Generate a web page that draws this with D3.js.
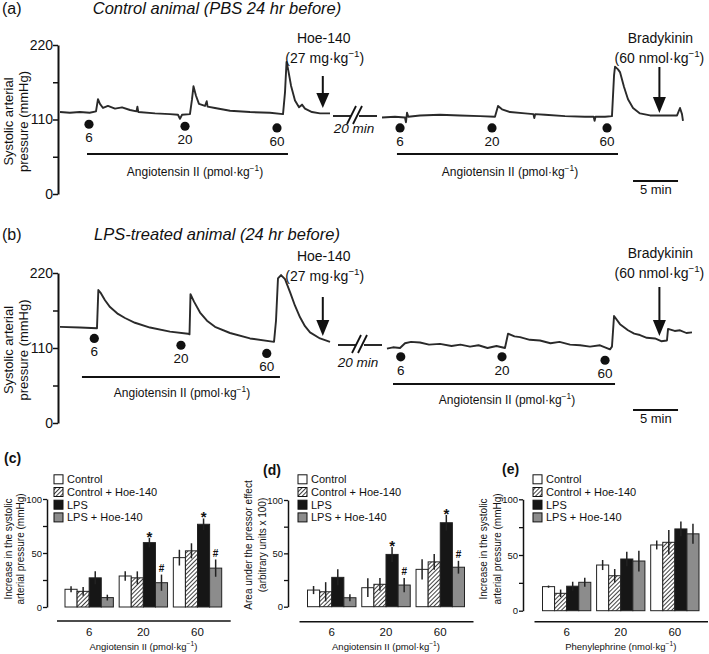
<!doctype html>
<html>
<head>
<meta charset="utf-8">
<style>
  body { margin: 0; background: #fff; }
  svg { font-family: "Liberation Sans", Arial, sans-serif; }
  text { fill: #111; }
</style>
<script src="https://d3js.org/d3.v7.min.js"></script>
</head>
<body>
<svg width="709" height="654"></svg>
<script>
// ---- pressure traces: [minutes on the display axis, mmHg]
var traceA1 = [[0,121],[1.1,120],[2.2,121],[3.3,120],[4.0,122],[4.22,140],[4.44,133],[4.78,127],[5.33,130],[6.11,126],
  [6.89,128],[7.78,124],[8.5,122],[8.6,129],[8.7,121],[10.56,119],[12.22,118],[13.11,117],[13.33,111],[13.56,117],
  [14.44,118],[14.67,140],[14.83,159],[15.11,145],[15.44,133],[16.11,130],[16.3,137],[16.4,129],[17.22,127],[18.89,123],
  [21.11,121],[23.33,120],[24.78,118],[25.0,150],[25.17,195],[25.33,185],[25.67,160],[26.11,138],[26.56,128],[26.89,132],
  [27.22,126],[28.0,121],[28.89,119],[30.0,119]];
var traceA2 = [[35.78,113],[37.22,114],[38.33,113],[38.44,106],[38.56,120],[38.7,114],[40.0,116],[42.22,117],[44.44,116],
  [46.67,115],[48.33,114],[48.67,130],[49.11,125],[50.0,121],[51.67,119],[52.6,118],[52.7,112],[52.8,118],[53.89,117],
  [56.11,115],[58.33,114],[59.3,114],[59.4,108],[59.5,114],[60.56,114],[61.33,115],[61.56,175],[61.67,188],[62.0,184],
  [62.22,180],[62.67,158],[63.11,140],[63.67,127],[64.44,119],[65.56,116],[67.22,116],[68.56,116],[68.89,127],[69.11,118],[69.22,108]];
var traceB1 = [[0,141],[2.22,140],[4.11,139],[4.26,195],[4.56,190],[5.0,180],[5.56,170],[6.44,160],[7.22,154],[8.33,147],
  [10.0,140],[12.22,134],[14.22,131],[14.39,130],[14.5,189],[14.89,178],[15.56,162],[16.33,150],[17.22,141],[18.89,132],
  [21.11,124],[23.78,119],[24.0,150],[24.22,212],[24.56,217],[25.0,211],[25.56,192],[26.11,172],[26.67,155],[27.22,142],
  [27.78,133],[28.89,124],[30.0,119]];
var traceB2 = [[36.33,109],[37.0,111],[37.78,110],[38.33,117],[39.0,119],[40.0,118],[41.0,115],[42.22,116],[43.5,113],
  [44.5,115],[45.56,112],[46.5,114],[47.5,110],[48.5,113],[49.44,110],[49.78,131],[50.5,127],[51.11,126],[52.2,122],
  [53.33,121],[54.5,117],[55.5,119],[56.67,115],[57.8,114],[58.89,112],[60.0,114],[61.11,108],[61.33,112],[61.56,157],
  [62.22,145],[63.11,136],[63.8,131],[64.44,129],[65.2,125],[66.11,124],[66.8,120],[67.44,121],[67.56,138],[68.3,135],
  [68.89,136],[69.6,132],[70.22,133]];

// injection times (minutes) and doses
var doseLabels = ["6", "20", "60"];
var injA1 = [3.22, 13.89, 24.11];
var injA2 = [37.78, 48.0, 60.78];
var injB1 = [3.81, 13.44, 22.97];
var injB2 = [37.86, 49.11, 60.56];
var hoeTime = 29.2, bradyTime = 66.6;

// ---- bar panels: rows = doses, columns = groups
var groups = ["Control", "Control + Hoe-140", "LPS", "LPS + Hoe-140"];
var doses = ["6", "20", "60"];
var cMeans = [[16.4, 14.5, 27, 8.7], [28.7, 27, 59.6, 22.5], [45.7, 52, 76.6, 36]];
var cSem   = [[2.8, 4, 6, 2.7], [4.3, 6, 4.4, 7.5], [7.3, 7, 5.4, 8]];
var dMeans = [[15.6, 14, 27.5, 8.4], [17.8, 21, 49, 20.3], [35, 42, 78.7, 37]];
var dSem   = [[3.8, 9, 7.5, 3.2], [8.8, 6, 7, 6.7], [9.4, 7.4, 7.3, 6]];
var eMeans = [[21.6, 15.6, 22, 25.5], [41, 31.4, 46.4, 44.6], [59, 61.4, 73.4, 69]];
var eSem   = [[1, 3.4, 4, 4], [4.5, 6, 6.6, 9.3], [4, 11, 6.6, 9]];
var sigMarks = [["", "", "", ""], ["", "", "*", "#"], ["", "", "*", "#"]];
var noMarks = [["", "", "", ""], ["", "", "", ""], ["", "", "", ""]];

var svg = d3.select("svg");
var ink = "#111";

var defs = svg.append("defs");
var pat = defs.append("pattern").attr("id", "hatch").attr("patternUnits", "userSpaceOnUse")
  .attr("width", 3).attr("height", 3).attr("patternTransform", "rotate(45)");
pat.append("rect").attr("width", 3).attr("height", 3).attr("fill", "#fff");
pat.append("line").attr("x1", 0).attr("y1", 0).attr("x2", 0).attr("y2", 3)
  .attr("stroke", ink).attr("stroke-width", 1.6);

// text with a superscript piece: before + sup + after
function supText(sel, before, sup, after, fs) {
  sel.append("tspan").text(before);
  sel.append("tspan").attr("dy", -fs * 0.4).attr("font-size", fs * 0.7).text(sup);
  sel.append("tspan").attr("dy", fs * 0.4).text(after);
}

function arrow(g, x, top, headTop, tip) {
  g.append("line").attr("x1", x).attr("x2", x).attr("y1", top).attr("y2", headTop)
    .attr("stroke", ink).attr("stroke-width", 2);
  g.append("path").attr("d", "M" + (x - 6.5) + "," + headTop + "L" + (x + 6.5) + "," + headTop + "L" + x + "," + tip + "Z")
    .attr("fill", ink);
}

var xT = d3.scaleLinear().domain([0, 70]).range([60, 690]);

function drawTrace(c) {
  var g = svg.append("g");
  var y = d3.scaleLinear().domain([0, 220]).range(c.yr);

  g.append("text").attr("x", 2).attr("y", c.titleY).attr("font-size", 16).text(c.letter);
  g.append("text").attr("x", 217).attr("y", c.titleY).attr("font-size", 16.5).attr("font-style", "italic")
    .attr("text-anchor", "middle").text(c.title);

  var ax = g.append("g").attr("transform", "translate(58,0)")
    .call(d3.axisLeft(y).tickValues([0, 55, 110, 165, 220]).tickSize(5).tickSizeOuter(0)
      .tickFormat(function(d) { return d % 110 === 0 ? d : ""; }));
  ax.select(".domain").attr("stroke", ink).attr("stroke-width", 2);
  ax.selectAll(".tick line").attr("stroke", ink).attr("stroke-width", 1.5);
  ax.selectAll(".tick text").attr("font-size", 14).attr("font-family", "Liberation Sans, Arial, sans-serif")
    .attr("fill", ink).attr("x", -5);

  var ly = (c.yr[0] + c.yr[1]) / 2 + 2;
  g.append("text").attr("transform", "translate(13," + ly + ") rotate(-90)").attr("text-anchor", "middle")
    .attr("font-size", 13).text("Systolic arterial");
  g.append("text").attr("transform", "translate(28," + ly + ") rotate(-90)").attr("text-anchor", "middle")
    .attr("font-size", 13).text("pressure (mmHg)");

  var line = d3.line().x(function(d) { return xT(d[0]); }).y(function(d) { return y(d[1]); });
  [c.seg1, c.seg2].forEach(function(s) {
    g.append("path").datum(s).attr("d", line).attr("fill", "none")
      .attr("stroke", "#2a2a2a").attr("stroke-width", 1.9).attr("stroke-linejoin", "round");
  });

  // injection dots + dose labels
  [[c.inj1, c.lev1], [c.inj2, c.lev2]].forEach(function(p) {
    p[0].forEach(function(t, i) {
      var cy = y(p[1][i]);
      g.append("circle").attr("cx", xT(t)).attr("cy", cy).attr("r", 4.6).attr("fill", ink);
      g.append("text").attr("x", xT(t)).attr("y", cy + 18).attr("text-anchor", "middle")
        .attr("font-size", 13.5).text(doseLabels[i]);
    });
  });

  // angiotensin bars and labels
  c.angLines.forEach(function(a) {
    g.append("line").attr("x1", xT(a[0])).attr("x2", xT(a[1])).attr("y1", a[2]).attr("y2", a[2])
      .attr("stroke", ink).attr("stroke-width", 1.8);
    var t = g.append("text").attr("x", a[3]).attr("y", a[4]).attr("text-anchor", "middle").attr("font-size", 12);
    supText(t, "Angiotensin II (pmol\u00b7kg", "\u22121", ")", 12);
  });

  // Hoe-140
  var hx = xT(hoeTime);
  g.append("text").attr("x", hx + 1).attr("y", c.hoeY).attr("text-anchor", "middle").attr("font-size", 14).text("Hoe-140");
  var ht = g.append("text").attr("x", hx + 2).attr("y", c.hoeY + 20).attr("text-anchor", "middle").attr("font-size", 14);
  supText(ht, "(27 mg\u00b7kg", "\u22121", ")", 14);
  arrow(g, hx, c.hoeArrow[0], c.hoeArrow[1], c.hoeArrow[2]);

  // Bradykinin
  var bx = xT(bradyTime);
  g.append("text").attr("x", bx + 1).attr("y", c.bradyY).attr("text-anchor", "middle").attr("font-size", 14).text("Bradykinin");
  var bt = g.append("text").attr("x", bx).attr("y", c.bradyY + 20).attr("text-anchor", "middle").attr("font-size", 14);
  supText(bt, "(60 nmol\u00b7kg", "\u22121", ")", 14);
  arrow(g, bx, c.bradyArrow[0], c.bradyArrow[1], c.bradyArrow[2]);

  // time break
  var by = c.breakY, b0 = c.breakX;
  g.append("line").attr("x1", b0).attr("x2", b0 + 18).attr("y1", by).attr("y2", by).attr("stroke", ink).attr("stroke-width", 1.8);
  g.append("line").attr("x1", b0 + 26).attr("x2", b0 + 44).attr("y1", by).attr("y2", by).attr("stroke", ink).attr("stroke-width", 1.8);
  [0, 6].forEach(function(o) {
    g.append("line").attr("x1", b0 + 14 + o).attr("y1", by + 8).attr("x2", b0 + 23 + o).attr("y2", by - 10)
      .attr("stroke", ink).attr("stroke-width", 1.8);
  });
  g.append("text").attr("x", c.minX).attr("y", c.minY).attr("text-anchor", "middle").attr("font-size", 13.5)
    .attr("font-style", "italic").text("20 min");

  // scale bar
  g.append("line").attr("x1", xT(63.67)).attr("x2", xT(68.67)).attr("y1", c.scaleY).attr("y2", c.scaleY)
    .attr("stroke", ink).attr("stroke-width", 1.8);
  g.append("text").attr("x", xT(66.2)).attr("y", c.scaleY + 13).attr("text-anchor", "middle").attr("font-size", 13).text("5 min");
}

drawTrace({
  letter: "(a)", title: "Control animal (PBS 24 hr before)", titleY: 14, yr: [194, 45],
  seg1: traceA1, seg2: traceA2, inj1: injA1, inj2: injA2, lev1: [103, 100, 97.5], lev2: [97.5, 97.5, 97.5],
  angLines: [[3.0, 25.33, 154, 195, 176], [37.44, 62.0, 154, 510, 176]],
  hoeY: 43, hoeArrow: [76, 93, 108], bradyY: 43, bradyArrow: [67, 97, 113],
  breakY: 116, breakX: 333, minX: 354, minY: 133, scaleY: 181
});
drawTrace({
  letter: "(b)", title: "LPS-treated animal (24 hr before)", titleY: 240, yr: [423, 273],
  seg1: traceB1, seg2: traceB2, inj1: injB1, inj2: injB2, lev1: [124, 114, 102], lev2: [97, 97, 92],
  angLines: [[2.44, 24.44, 377, 182, 397], [37.0, 61.67, 384, 507, 404]],
  hoeY: 261, hoeArrow: [297, 320, 336], bradyY: 258, bradyArrow: [287, 320, 336],
  breakY: 345, breakX: 338, minX: 358, minY: 367, scaleY: 410
});

// ---- grouped bar panels
var fills = ["#fff", "url(#hatch)", "#161616", "#8c8c8c"];

function drawBars(c) {
  var g = svg.append("g");
  var x0 = d3.scaleBand().domain(doses).range(c.xr).paddingInner(0.107).paddingOuter(0);
  var x1 = d3.scaleBand().domain(groups).range([0, x0.bandwidth()]);
  var y = d3.scaleLinear().domain([0, 100]).range(c.yr);

  g.append("text").attr("x", c.letterX).attr("y", c.letterY).attr("font-size", 14).attr("font-weight", "bold").text(c.letter);

  // legend
  groups.forEach(function(name, i) {
    var cy = c.legY + i * 12.7;
    g.append("rect").attr("x", c.legX).attr("y", cy - 4.5).attr("width", 9).attr("height", 9)
      .attr("fill", fills[i]).attr("stroke", ink).attr("stroke-width", 1);
    g.append("text").attr("x", c.legX + 13).attr("y", cy + 4).attr("font-size", 11).text(name);
  });

  var ax = g.append("g").attr("transform", "translate(" + c.axX + ",0)")
    .call(d3.axisLeft(y).tickValues([0, 25, 50, 75, 100]).tickSize(4).tickSizeOuter(0)
      .tickFormat(function(d) { return d % 50 === 0 ? d : ""; }));
  ax.select(".domain").attr("stroke", ink).attr("stroke-width", 1.5);
  ax.selectAll(".tick line").attr("stroke", ink).attr("stroke-width", 1.3);
  ax.selectAll(".tick text").attr("font-size", 9.5).attr("font-family", "Liberation Sans, Arial, sans-serif")
    .attr("fill", ink).attr("x", -5);

  c.ylab.forEach(function(s, i) {
    g.append("text").attr("transform", "translate(" + c.ylabX[i] + "," + c.ylabY + ") rotate(-90)")
      .attr("text-anchor", "middle").attr("font-size", 10).text(s);
  });

  doses.forEach(function(dose, di) {
    var gx = x0(dose);
    groups.forEach(function(name, gi) {
      var m = c.means[di][gi], s = c.sem[di][gi];
      var bx = gx + x1(name), bw = x1.bandwidth();
      g.append("rect").attr("x", bx).attr("y", y(m)).attr("width", bw).attr("height", y(0) - y(m))
        .attr("fill", fills[gi]).attr("stroke", "#222").attr("stroke-width", 1);
      g.append("line").attr("x1", bx + bw / 2).attr("x2", bx + bw / 2).attr("y1", y(m - s)).attr("y2", y(m + s))
        .attr("stroke", "#222").attr("stroke-width", 1.5);
      var mk = c.marks[di][gi];
      if (mk === "*") {
        g.append("text").attr("x", bx + bw / 2).attr("y", y(m + s) + 4).attr("text-anchor", "middle")
          .attr("font-size", 15).attr("font-weight", "bold").text("*");
      } else if (mk === "#") {
        g.append("text").attr("x", bx + bw / 2).attr("y", y(m + s) - 2.5).attr("text-anchor", "middle")
          .attr("font-size", 10).attr("font-weight", "bold").text("#");
      }
    });
    g.append("text").attr("x", gx + x0.bandwidth() / 2).attr("y", 636).attr("text-anchor", "middle")
      .attr("font-size", 11.5).text(dose);
  });

  g.append("line").attr("x1", c.xr[0] - 8).attr("x2", c.xr[1] + 9).attr("y1", c.lineY).attr("y2", c.lineY)
    .attr("stroke", ink).attr("stroke-width", 1.6);
  var t = g.append("text").attr("x", x0("20") + x0.bandwidth() / 2).attr("y", 650).attr("text-anchor", "middle")
    .attr("font-size", 9.5);
  supText(t, c.xlab, "\u22121", ")", 9.5);
}

drawBars({
  letter: "(c)", letterX: 4, letterY: 463, legX: 54, legY: 479.3, axX: 47, xr: [65, 221.7], yr: [607, 499],
  means: cMeans, sem: cSem, marks: sigMarks, lineY: 621,
  ylab: ["Increase in the systolic", "arterial pressure (mmHg)"], ylabX: [12, 23.5], ylabY: 549,
  xlab: "Angiotensin II (pmol\u00b7kg"
});
drawBars({
  letter: "(d)", letterX: 263, letterY: 475, legX: 298, legY: 479.3, axX: 288, xr: [307.5, 464.5], yr: [606.7, 500],
  means: dMeans, sem: dSem, marks: sigMarks, lineY: 621.7,
  ylab: ["Area under the pressor effect", "(arbitrary units x 100)"], ylabX: [252, 266], ylabY: 545,
  xlab: "Angiotensin II (pmol\u00b7kg"
});
drawBars({
  letter: "(e)", letterX: 502, letterY: 474, legX: 533, legY: 479.3, axX: 523, xr: [542.5, 699], yr: [610.7, 499.3],
  means: eMeans, sem: eSem, marks: noMarks, lineY: 621.7,
  ylab: ["Increase in the systolic", "arterial pressure (mmHg)"], ylabX: [487, 501], ylabY: 549,
  xlab: "Phenylephrine (nmol\u00b7kg"
});
</script>
</body>
</html>
